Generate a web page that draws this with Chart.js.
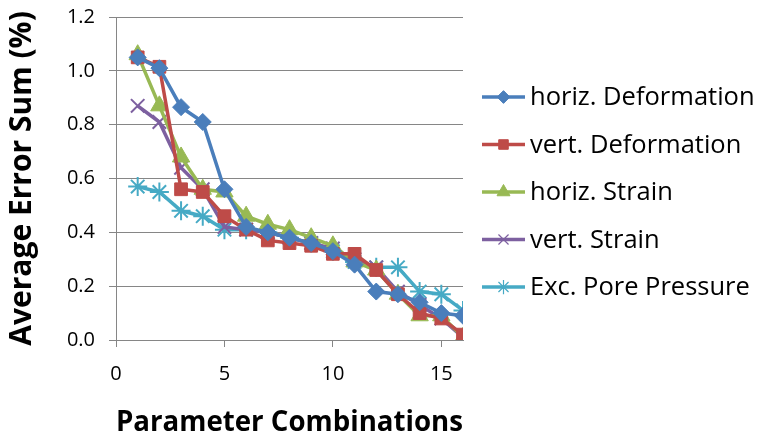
<!DOCTYPE html>
<html>
<head>
<meta charset="utf-8">
<script src="https://cdn.jsdelivr.net/npm/chart.js@4/dist/chart.umd.min.js"></script>
<style>
  html, body { margin: 0; padding: 0; background: #fff; }
  #wrap { width: 761px; height: 437px; }
</style>
</head>
<body>
<div id="wrap"><canvas id="myChart"></canvas></div>
<script>
// parameter combination index (x)
var combos = [1, 2, 3, 4, 5, 6, 7, 8, 9, 10, 11, 12, 13, 14, 15, 16];

// average error sums in %, one list per measured quantity
var horizDeformation = [1.05, 1.01, 0.865, 0.81, 0.56, 0.42, 0.40, 0.38, 0.36, 0.33, 0.28, 0.18, 0.17, 0.14, 0.10, 0.09];
var vertDeformation  = [1.05, 1.015, 0.56, 0.55, 0.46, 0.41, 0.37, 0.36, 0.35, 0.32, 0.32, 0.26, 0.17, 0.10, 0.08, 0.02];
var horizStrain      = [1.06, 0.87, 0.68, 0.56, 0.55, 0.46, 0.43, 0.41, 0.38, 0.35, 0.29, 0.26, 0.17, 0.09, 0.09, 0.01];
var vertStrain       = [0.87, 0.81, 0.64, 0.56, 0.42, 0.41, 0.40, 0.38, 0.36, 0.34, 0.30, 0.27, 0.18, 0.13, 0.08, 0.01];
var porePressure     = [0.57, 0.55, 0.48, 0.46, 0.41, 0.41, 0.40, 0.38, 0.36, 0.33, 0.29, 0.27, 0.27, 0.18, 0.17, 0.11];

var seriesNames = ["horiz. Deformation", "vert. Deformation", "horiz. Strain", "vert. Strain", "Exc. Pore Pressure"];
var xTicks = [0, 5, 10, 15];

var FONT = "'Open Sans', Lato, sans-serif";

function toPoints(vals) {
  return vals.map(function (v, i) { return { x: combos[i], y: v }; });
}

function makeSet(label, vals, color, style, radius, fill) {
  return {
    label: label,
    data: toPoints(vals),
    borderColor: color,
    backgroundColor: color,
    borderWidth: 3.5,
    pointStyle: style,
    pointRadius: radius,
    pointBorderColor: color,
    pointBackgroundColor: color,
    pointBorderWidth: fill ? 1 : 2,
    tension: 0
  };
}

// legend on the right: short line with the series marker, then the name
var sideLegend = {
  id: 'sideLegend',
  afterDraw: function (chart) {
    var ctx = chart.ctx;
    var x0 = 482, x1 = 525, top = 97, step = 47.5;
    ctx.save();
    chart.data.datasets.forEach(function (ds, i) {
      var y = top + i * step;
      ctx.strokeStyle = ds.borderColor;
      ctx.lineWidth = 3.5;
      ctx.beginPath();
      ctx.moveTo(x0, y);
      ctx.lineTo(x1, y);
      ctx.stroke();
      ctx.fillStyle = ds.pointBackgroundColor;
      ctx.strokeStyle = ds.pointBorderColor;
      ctx.lineWidth = ds.pointBorderWidth > 1 ? 1.2 : 1;
      Chart.helpers.drawPoint(ctx, {
        pointStyle: ds.pointStyle,
        radius: ds.pointRadius * 0.75,
        rotation: 0,
        borderWidth: ctx.lineWidth
      }, (x0 + x1) / 2, y);
      ctx.fillStyle = '#000';
      ctx.font = "25.5px " + FONT;
      ctx.textBaseline = 'middle';
      ctx.textAlign = 'left';
      ctx.fillText(ds.label, 530, y + 1);
    });
    ctx.restore();
  }
};

var ctx = document.getElementById('myChart').getContext('2d');
var chart = new Chart(ctx, {
  type: 'line',
  data: {
    datasets: [
      makeSet(seriesNames[0], horizDeformation, '#4A7EBB', 'rectRot', 8.5, true),
      makeSet(seriesNames[1], vertDeformation, '#BE4B48', 'rect', 9, true),
      makeSet(seriesNames[2], horizStrain, '#98B954', 'triangle', 10, true),
      makeSet(seriesNames[3], vertStrain, '#7D60A0', 'crossRot', 9.5, false),
      makeSet(seriesNames[4], porePressure, '#46AAC5', 'star', 9.5, false)
    ]
  },
  options: {
    responsive: true,
    maintainAspectRatio: false,
    animation: false,
    layout: { padding: { top: 17, right: 298, left: 0, bottom: 0 } },
    plugins: {
      legend: { display: false },
      tooltip: { enabled: false }
    },
    scales: {
      x: {
        type: 'linear',
        min: 0,
        max: 16,
        afterBuildTicks: function (scale) {
          scale.ticks = xTicks.map(function (v) { return { value: v }; });
        },
        afterFit: function (scale) { scale.height = 97; },
        grid: { drawOnChartArea: false, drawTicks: true, tickLength: 7, color: '#868686' },
        border: { color: '#868686', width: 1 },
        ticks: { color: '#000', font: { family: FONT, size: 20 }, padding: 15 },
        title: {
          display: true,
          text: 'Parameter Combinations',
          color: '#000',
          font: { family: FONT, size: 28, weight: 'bold', lineHeight: 1 },
          padding: { top: 0, bottom: 0 }
        }
      },
      y: {
        min: 0,
        max: 1.2,
        afterFit: function (scale) {
          scale.width = 116;
          scale.paddingTop = 0;
          scale.paddingBottom = 0;
        },
        grid: { color: '#868686', lineWidth: 1, tickLength: 7 },
        border: { color: '#868686', width: 1 },
        ticks: {
          stepSize: 0.2,
          color: '#000',
          font: { family: FONT, size: 20 },
          padding: 14,
          callback: function (v) { return v.toFixed(1); }
        },
        title: {
          display: true,
          text: 'Average Error Sum (%)',
          color: '#000',
          font: { family: FONT, size: 30, weight: 'bold' },
          padding: { bottom: 2 }
        }
      }
    }
  },
  plugins: [sideLegend]
});
</script>
</body>
</html>
